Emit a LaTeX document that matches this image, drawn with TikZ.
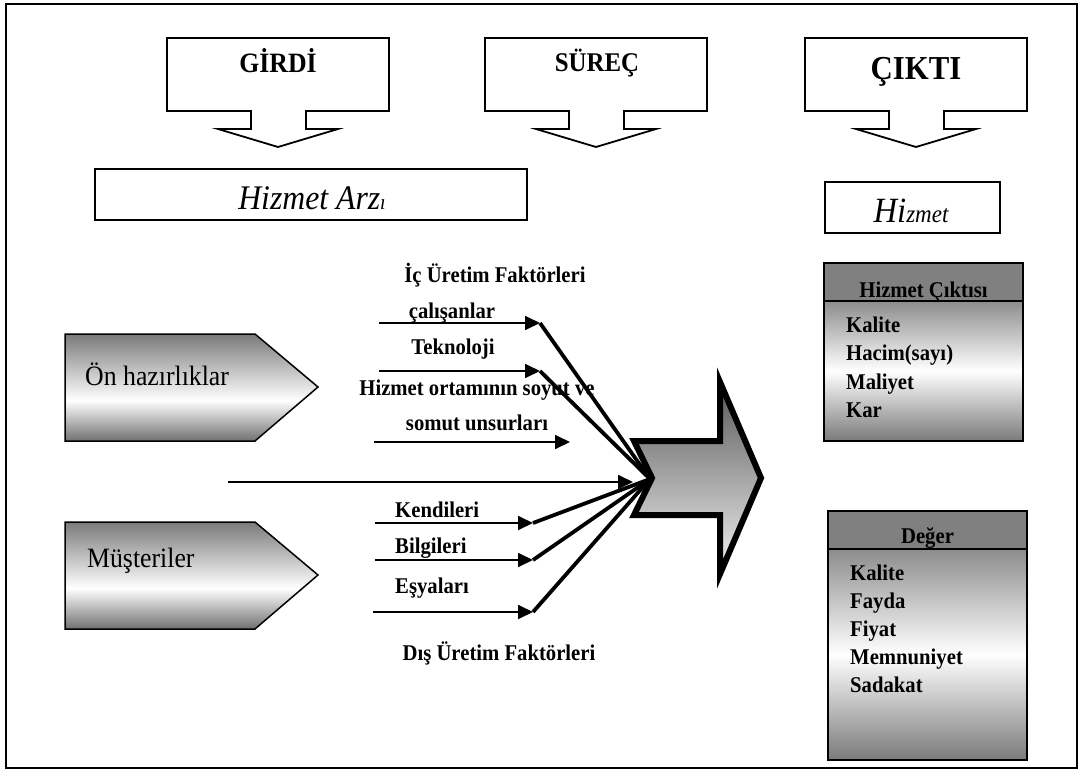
\documentclass[tikz,border=0pt]{standalone}
\usepackage{fontspec}
\setmainfont{Liberation Serif}[FakeStretch=0.92]
\usetikzlibrary{arrows.meta}
\pgfdeclareverticalshading{pentshade}{100bp}{color(0bp)=(black!56); color(25bp)=(black!56); color(44bp)=(white); color(75bp)=(black!52); color(100bp)=(black!52)}
\pgfdeclareverticalshading{boxshade}{100bp}{color(0bp)=(black!52); color(25bp)=(black!52); color(50bp)=(white); color(75bp)=(black!45); color(100bp)=(black!45)}
\begin{document}
\begin{tikzpicture}[x=1pt,y=-1pt,
  callout/.style={draw,line width=1.8pt,line join=miter,fill=white},
  plainbox/.style={draw,line width=1.8pt},
  lbl/.style={inner sep=0pt,font=\fontsize{22.5}{26}\selectfont\bfseries},
  head/.style={inner sep=0pt,font=\fontsize{28}{32}\selectfont\bfseries},
  thinarrow/.style={line width=1.8pt,-{Triangle[length=15pt,width=14pt]}},
  thickline/.style={line width=3.8pt},
  pent/.style={draw,line width=1.5pt,shading=pentshade},
  hdrbox/.style={draw,line width=2pt,fill=black!50},
  bodybox/.style={draw,line width=2pt,shading=boxshade},
  bigarrow/.style={draw,line width=6pt,line join=miter,top color=black!65,bottom color=black!5}
]
\useasboundingbox (0,0) rectangle (1084,776);
\draw[line width=1.5pt] (6,4) rectangle (1077,768);

% top callouts
\foreach \x in {167,485,805}{
  \draw[callout] (\x,38) -- ++(222,0) -- ++(0,73) -- ++(-83,0) -- ++(0,18) -- ++(32,0)
    -- ++(-60,18) -- ++(-60,-18) -- ++(33,0) -- ++(0,-18) -- ++(-84,0) -- cycle;
}
\node[head,anchor=base] (girdi) at (278,73) {GİRDİ};
\node[inner sep=0pt,anchor=base,font=\fontsize{27}{32}\selectfont\bfseries] (surec) at (597,71) {SÜREÇ};
\node[inner sep=0pt,anchor=base,font=\fontsize{33.5}{38}\selectfont\bfseries] (cikti) at (916,80) {ÇIKTI};

% Hizmet Arzı
\draw[plainbox] (95,169) rectangle (527,220);
\node[inner sep=0pt,anchor=base] (arz) at (312,209)
  {\fontsize{34.5}{38}\selectfont\itshape Hizmet Arz{\fontsize{21.5}{24}\selectfont ı}};

% Hizmet
\draw[plainbox] (825,182) rectangle (1000,233);
\node[inner sep=0pt,anchor=base] (hizmet) at (911,222)
  {\fontsize{35.5}{38}\selectfont\itshape Hi{\fontsize{25}{28}\selectfont zmet}};

% pentagons
\draw[pent] (65,334) -- (255,334) -- (318,387) -- (255,441) -- (65,441) -- cycle;
\node[inner sep=0pt,anchor=base west,font=\fontsize{28}{32}\selectfont] (onhaz) at (85,385) {Ön hazırlıklar};
\draw[pent] (65,522) -- (255,522) -- (318,575) -- (255,629) -- (65,629) -- cycle;
\node[inner sep=0pt,anchor=base west,font=\fontsize{28}{32}\selectfont] (must) at (87,567) {Müşteriler};

% labels
\node[lbl,anchor=base] (ic) at (495,282) {İç Üretim Faktörleri};
\node[lbl,anchor=base] (cal) at (452,318) {çalışanlar};
\node[lbl,anchor=base] (tek) at (453,354) {Teknoloji};
\node[lbl,anchor=base] (hiz1) at (477,395) {Hizmet ortamının soyut ve};
\node[lbl,anchor=base] (hiz2) at (477,430) {somut unsurları};
\node[lbl,anchor=base west] (ken) at (395,517) {Kendileri};
\node[lbl,anchor=base west] (bil) at (395,553) {Bilgileri};
\node[lbl,anchor=base west] (esy) at (395,593) {Eşyaları};
\node[lbl,anchor=base] (dis) at (499,660) {Dış Üretim Faktörleri};

% connector points
\coordinate (conv) at (650,479);
\coordinate (s1) at (379,323); \coordinate (t1) at (540,323);
\coordinate (s2) at (379,371); \coordinate (t2) at (540,371);
\coordinate (s3) at (374,442); \coordinate (t3) at (570,442);
\coordinate (s4) at (228,482); \coordinate (t4) at (633,482);
\coordinate (s5) at (375,523); \coordinate (t5) at (533,523);
\coordinate (s6) at (375,560); \coordinate (t6) at (533,560);
\coordinate (s7) at (373,612); \coordinate (t7) at (533,612);

\foreach \i in {1,...,7}{ \draw[thinarrow] (s\i) -- (t\i); }
\foreach \i in {1,2,5,6,7}{ \draw[thickline] (t\i) -- (conv); }

% big arrow
\draw[bigarrow] (634,441) -- (720,441) -- (720,382) -- (761,478) -- (720,574)
  -- (720,515) -- (634,515) -- (652,478) -- cycle;

% Hizmet Çıktısı box
\draw[hdrbox] (824,263) rectangle (1023,301);
\draw[bodybox] (824,301) rectangle (1023,441);
\node[lbl,anchor=base] (hc) at (923.5,297) {Hizmet Çıktısı};
\node[lbl,anchor=base west] (hc1) at (846,332) {Kalite};
\node[lbl,anchor=base west] (hc2) at (846,360) {Hacim(sayı)};
\node[lbl,anchor=base west] (hc3) at (846,389) {Maliyet};
\node[lbl,anchor=base west] (hc4) at (846,417) {Kar};

% Değer box
\draw[hdrbox] (828,511) rectangle (1027,549);
\draw[bodybox] (828,549) rectangle (1027,760);
\node[lbl,anchor=base] (dg) at (927.5,543) {Değer};
\node[lbl,anchor=base west] (dg1) at (850,580) {Kalite};
\node[lbl,anchor=base west] (dg2) at (850,608) {Fayda};
\node[lbl,anchor=base west] (dg3) at (850,636) {Fiyat};
\node[lbl,anchor=base west] (dg4) at (850,664) {Memnuniyet};
\node[lbl,anchor=base west] (dg5) at (850,692) {Sadakat};
\end{tikzpicture}
\end{document}
